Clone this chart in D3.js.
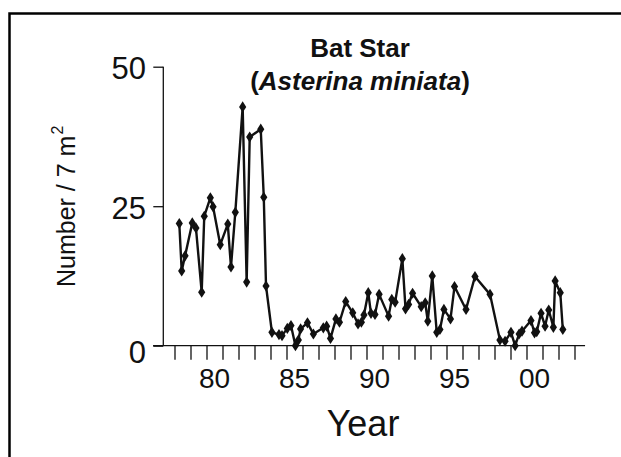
<!DOCTYPE html>
<html>
<head>
<meta charset="utf-8">
<script src="https://cdn.jsdelivr.net/npm/d3@7/dist/d3.min.js"></script>
<style>
  html, body { margin: 0; padding: 0; background: #fff; }
  svg { display: block; }
  text { font-family: "Liberation Sans", Arial, sans-serif; fill: #111; }
</style>
</head>
<body>
<svg id="chart" width="621" height="457"></svg>
<script>
// ---- data ----
const years = [
  1978.30, 1978.45, 1978.66, 1979.11, 1979.34, 1979.70, 1979.86, 1980.24, 1980.41, 1980.86,
  1981.33, 1981.53, 1981.80, 1982.26, 1982.51, 1982.70, 1983.39, 1983.58, 1983.72, 1984.09,
  1984.53, 1984.72, 1985.05, 1985.28, 1985.56, 1985.74, 1985.88, 1986.31, 1986.68, 1987.30,
  1987.51, 1987.75, 1988.09, 1988.31, 1988.70, 1989.14, 1989.47, 1989.68, 1989.84, 1990.11,
  1990.28, 1990.53, 1990.79, 1991.38, 1991.58, 1991.79, 1992.24, 1992.44, 1992.63, 1992.88,
  1993.42, 1993.67, 1993.83, 1994.11, 1994.39, 1994.59, 1994.84, 1995.25, 1995.50, 1996.22,
  1996.78, 1997.72, 1998.34, 1998.66, 1999.03, 1999.29, 1999.54, 1999.72, 2000.28, 2000.50,
  2000.64, 2000.91, 2001.16, 2001.39, 2001.68, 2001.79, 2002.11, 2002.27
];
const counts = [
  21.9, 13.4, 16.1, 22.0, 21.1, 9.6, 23.2, 26.5, 24.9, 18.1,
  21.8, 14.1, 23.9, 42.8, 11.4, 37.4, 38.8, 26.6, 10.7, 2.4,
  2.0, 1.8, 3.1, 3.6, 0.0, 1.0, 3.0, 4.1, 2.1, 3.2,
  3.5, 1.3, 4.8, 4.2, 7.9, 5.9, 3.9, 4.2, 5.5, 9.5,
  5.8, 5.6, 9.2, 5.3, 8.3, 7.8, 15.6, 6.6, 7.4, 9.4,
  7.0, 7.7, 4.4, 12.5, 2.4, 2.9, 6.5, 4.8, 10.6, 6.5,
  12.4, 9.2, 1.0, 0.8, 2.4, 0.0, 2.1, 2.6, 4.5, 2.3,
  2.5, 5.8, 3.5, 6.4, 3.3, 11.6, 9.5, 2.9
];
const yTicks = [0, 25, 50];
const yTickLabels = ["0", "25", "50"];
const xLabelYears = [1980, 1985, 1990, 1995, 2000];
const xLabels = ["80", "85", "90", "95", "00"];
const titleLine1 = "Bat Star";
const titleSpecies = "Asterina miniata";
const yTitle = "Number / 7 m";
const yTitleSup = "2";
const xTitle = "Year";

// ---- drawing ----
const svg = d3.select("#chart");
const ink = "#111";

const x = d3.scaleLinear().domain([1978, 2003]).range([174.5, 574.5]);
const y = d3.scaleLinear().domain([0, 50]).range([345.7, 66.7]);

// frame (top and left border)
svg.append("path")
  .attr("d", "M9.5,457 V13.5 H621")
  .attr("fill", "none").attr("stroke", "#000").attr("stroke-width", 2.5);

// x axis
const xAxis = d3.axisBottom(x)
  .tickValues(d3.range(1978, 2004))
  .tickSize(14).tickFormat("");
const gx = svg.append("g").attr("transform", `translate(0,${y(0)})`).call(xAxis);
gx.select(".domain").remove();
gx.selectAll(".tick line").attr("stroke", ink).attr("stroke-width", 1.3);
svg.append("line")
  .attr("x1", x(1976.66)).attr("x2", x(2003.66))
  .attr("y1", y(0)).attr("y2", y(0))
  .attr("stroke", ink).attr("stroke-width", 1.3);

svg.selectAll("text.xl").data(xLabelYears).join("text")
  .attr("class", "xl")
  .attr("x", d => x(d + 0.5))
  .attr("y", y(0) + 42.5)
  .attr("text-anchor", "middle")
  .style("font-size", "28px")
  .text((d, i) => xLabels[i]);

// y axis
const yAxisX = 163.3;
const yAxis = d3.axisLeft(y).tickValues(yTicks).tickSize(10).tickFormat("");
const gy = svg.append("g").attr("transform", `translate(${yAxisX},0)`).call(yAxis);
gy.select(".domain").remove();
gy.selectAll(".tick line").attr("stroke", ink).attr("stroke-width", 1.3);
svg.append("line")
  .attr("x1", yAxisX).attr("x2", yAxisX)
  .attr("y1", y(50)).attr("y2", y(0))
  .attr("stroke", ink).attr("stroke-width", 1.3);

svg.selectAll("text.yl").data(yTicks).join("text")
  .attr("class", "yl")
  .attr("x", 146)
  .attr("y", d => y(d) + (d === 0 ? 17 : 12.5))
  .attr("text-anchor", "end")
  .style("font-size", "31px")
  .text((d, i) => yTickLabels[i]);

// series line
const line = d3.line().x((d, i) => x(years[i])).y(d => y(d));
svg.append("path")
  .datum(counts)
  .attr("d", line)
  .attr("fill", "none")
  .attr("stroke", ink)
  .attr("stroke-width", 2.4)
  .attr("stroke-linejoin", "round");

// diamond markers
const hw = 3.6, hh = 5.6;
svg.selectAll("path.mk").data(counts).join("path")
  .attr("class", "mk")
  .attr("d", (d, i) => {
    const cx = x(years[i]), cy = y(d);
    return `M${cx},${cy - hh} L${cx + hw},${cy} L${cx},${cy + hh} L${cx - hw},${cy} Z`;
  })
  .attr("fill", ink);

// title
svg.append("text")
  .attr("x", 360).attr("y", 57)
  .attr("text-anchor", "middle")
  .style("font-size", "26px").style("font-weight", "bold")
  .text(titleLine1);
const t2 = svg.append("text")
  .attr("x", 360).attr("y", 89.5)
  .attr("text-anchor", "middle")
  .style("font-size", "26px").style("font-weight", "bold");
t2.append("tspan").text("(");
t2.append("tspan").style("font-style", "italic").text(titleSpecies);
t2.append("tspan").text(")");

// y title
const yt = svg.append("text")
  .attr("transform", "translate(75,287) rotate(-90)")
  .attr("text-anchor", "start")
  .style("font-size", "25px");
yt.append("tspan").text(yTitle);
yt.append("tspan").attr("dy", -12).attr("dx", 1).style("font-size", "16px").text(yTitleSup);

// x title
svg.append("text")
  .attr("x", 363).attr("y", 436)
  .attr("text-anchor", "middle")
  .style("font-size", "36px")
  .text(xTitle);
</script>
</body>
</html>
